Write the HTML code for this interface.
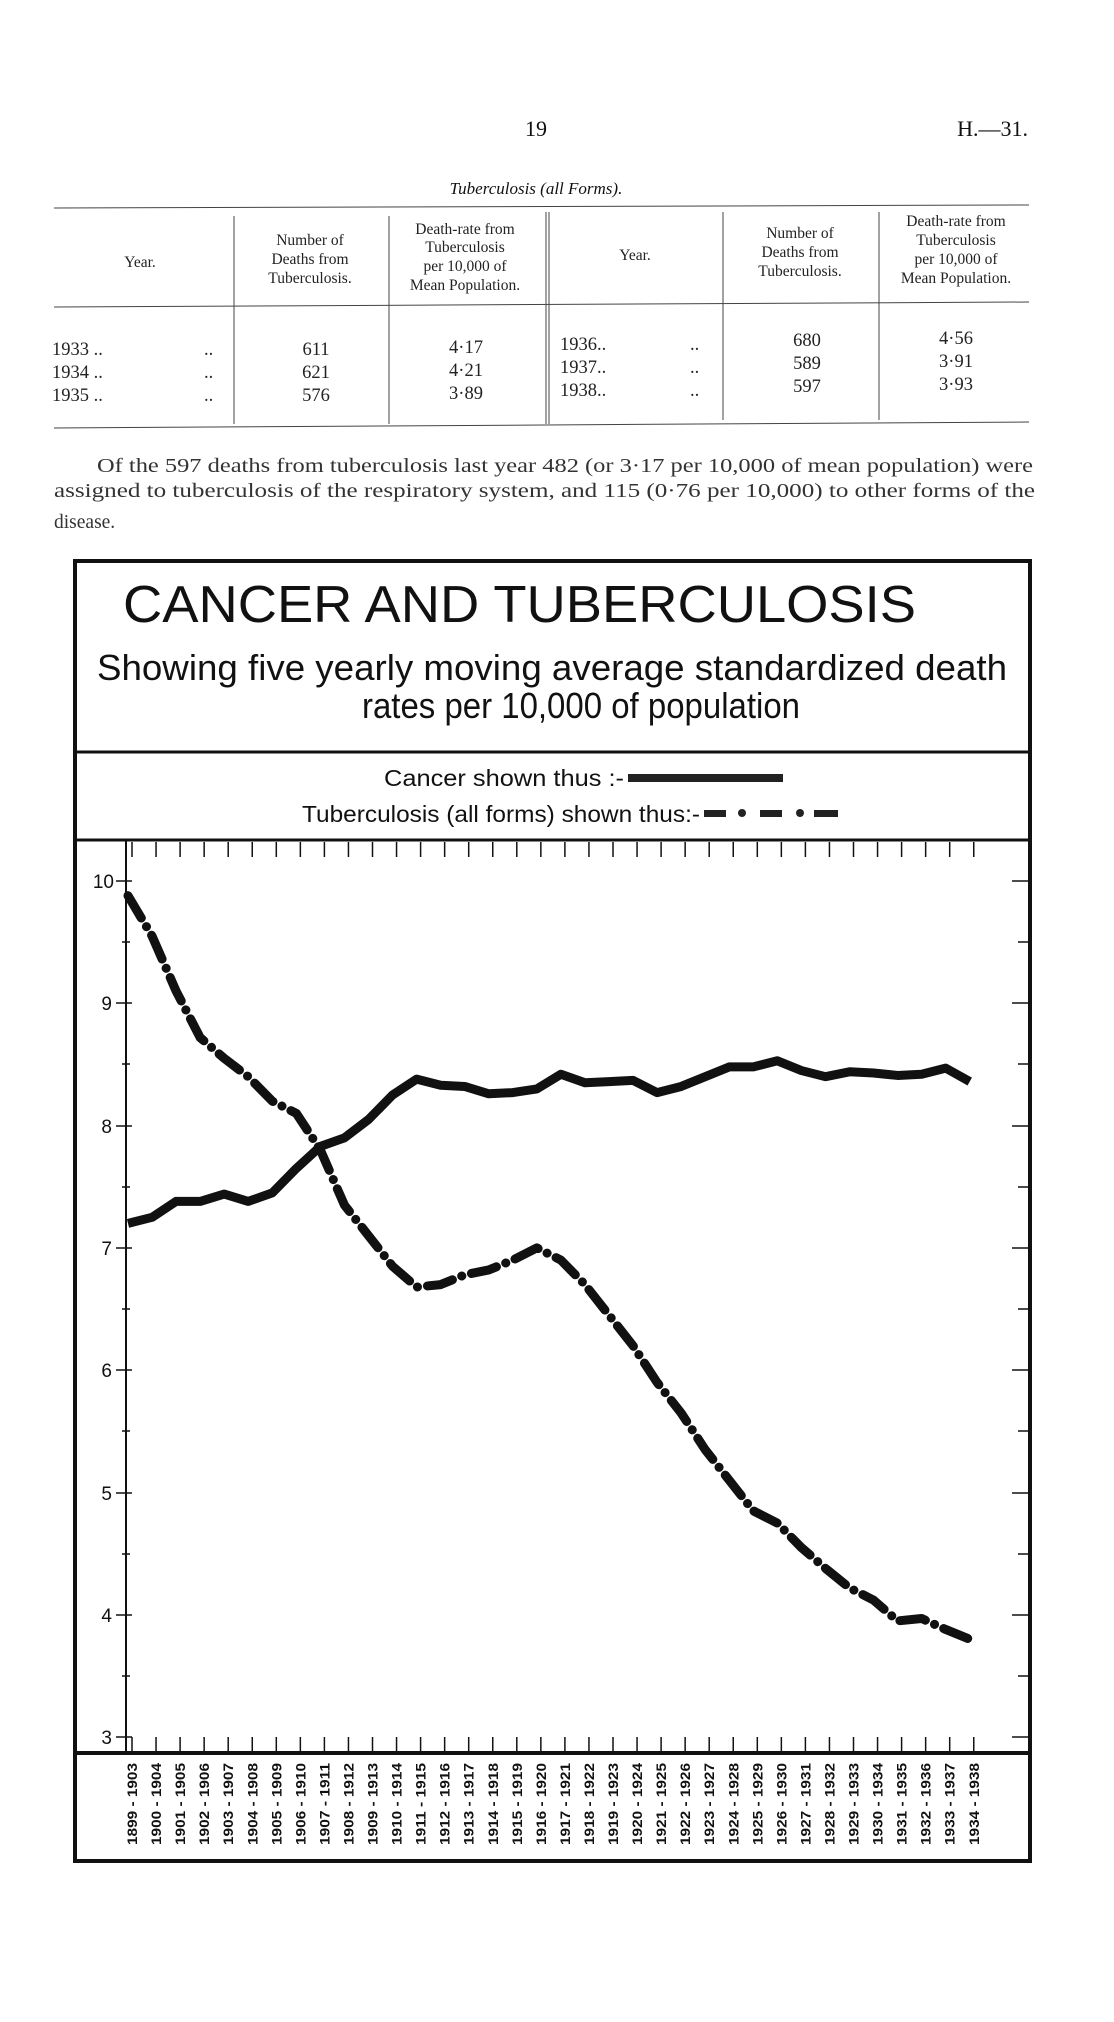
<!DOCTYPE html>
<html><head><meta charset="utf-8"><style>html,body{margin:0;padding:0;background:#fff}svg{display:block}</style></head>
<body>
<svg width="1114" height="2022" viewBox="0 0 1114 2022" xmlns="http://www.w3.org/2000/svg">
<g font-family="Liberation Serif, serif" fill="#111">
<text x="536" y="136" font-size="22" text-anchor="middle">19</text>
<text x="1028" y="136" font-size="22" text-anchor="end">H.—31.</text>
<text x="536" y="194" font-size="17" font-style="italic" text-anchor="middle">Tuberculosis (all Forms).</text>
</g>
<g stroke="#444" stroke-width="1" fill="none">
<line x1="54" y1="208" x2="1029" y2="205"/>
<line x1="54" y1="307" x2="1029" y2="302"/>
<line x1="54" y1="428" x2="1029" y2="422"/>
<line x1="234" y1="216" x2="234" y2="424"/>
<line x1="389" y1="216" x2="389" y2="424"/>
<line x1="546" y1="212" x2="546" y2="424"/><line x1="549" y1="212" x2="549" y2="424"/>
<line x1="723" y1="212" x2="723" y2="420"/>
<line x1="879" y1="212" x2="879" y2="420"/>
</g>
<g font-family="Liberation Serif, serif" font-size="15.5" fill="#222" text-anchor="middle">
<text x="140" y="267">Year.</text>
<text x="310" y="245">Number of</text><text x="310" y="264">Deaths from</text><text x="310" y="283">Tuberculosis.</text>
<text x="465" y="234">Death-rate from</text><text x="465" y="252">Tuberculosis</text><text x="465" y="271">per 10,000 of</text><text x="465" y="290">Mean Population.</text>
<text x="635" y="260">Year.</text>
<text x="800" y="238">Number of</text><text x="800" y="257">Deaths from</text><text x="800" y="276">Tuberculosis.</text>
<text x="956" y="226">Death-rate from</text><text x="956" y="245">Tuberculosis</text><text x="956" y="264">per 10,000 of</text><text x="956" y="283">Mean Population.</text>
</g>
<g font-family="Liberation Serif, serif" font-size="18.5" fill="#222">
<text x="52" y="355">1933   ..</text><text x="52" y="378">1934   ..</text><text x="52" y="401">1935   ..</text>
<text x="204" y="355">..</text><text x="204" y="378">..</text><text x="204" y="401">..</text>
<g text-anchor="middle"><text x="316" y="355">611</text><text x="316" y="378">621</text><text x="316" y="401">576</text>
<text x="466" y="353">4·17</text><text x="466" y="376">4·21</text><text x="466" y="399">3·89</text>
<text x="807" y="346">680</text><text x="807" y="369">589</text><text x="807" y="392">597</text>
<text x="956" y="344">4·56</text><text x="956" y="367">3·91</text><text x="956" y="390">3·93</text></g>
<text x="560" y="350">1936..</text><text x="560" y="373">1937..</text><text x="560" y="396">1938..</text>
<text x="690" y="350">..</text><text x="690" y="373">..</text><text x="690" y="396">..</text>
</g>
<g font-family="Liberation Serif, serif" font-size="19.5" fill="#333">
<text x="97" y="472" textLength="936" lengthAdjust="spacingAndGlyphs">Of the 597 deaths from tuberculosis last year 482 (or 3·17 per 10,000 of mean population) were</text>
<text x="54" y="497" textLength="981" lengthAdjust="spacingAndGlyphs">assigned to tuberculosis of the respiratory system, and 115 (0·76 per 10,000) to other forms of the</text>
<text x="54" y="528">disease.</text>
</g>
<g stroke="#111" fill="none">
<rect x="75" y="561" width="955" height="1300" stroke-width="4"/>
<line x1="75" y1="752" x2="1030" y2="752" stroke-width="3"/>
<line x1="75" y1="840" x2="1030" y2="840" stroke-width="3"/>
<line x1="75" y1="1753" x2="1030" y2="1753" stroke-width="4"/>
<line x1="126" y1="840" x2="126" y2="1753" stroke-width="2"/>
</g>
<g font-family="Liberation Sans Narrow, Liberation Sans, sans-serif" fill="#111">
<text x="123" y="622" font-size="52" textLength="793" lengthAdjust="spacingAndGlyphs">CANCER AND TUBERCULOSIS</text>
<text x="97" y="680" font-size="36" textLength="910" lengthAdjust="spacingAndGlyphs">Showing five yearly moving average standardized death</text>
<text x="362" y="718" font-size="36" textLength="438" lengthAdjust="spacingAndGlyphs">rates per 10,000 of population</text>
<text x="384" y="786" font-size="23" textLength="240" lengthAdjust="spacingAndGlyphs">Cancer shown thus :-</text>
<text x="302" y="822" font-size="23" textLength="398" lengthAdjust="spacingAndGlyphs">Tuberculosis (all forms) shown thus:-</text>
</g>
<rect x="628" y="774" width="155" height="8" fill="#222"/>
<g fill="#222"><rect x="704" y="810" width="22" height="7"/><circle cx="742" cy="813" r="4"/><rect x="760" y="810" width="22" height="7"/><circle cx="800" cy="813" r="4"/><rect x="814" y="810" width="24" height="7"/></g>
<g stroke="#111" stroke-width="1.5">
<line x1="116" y1="881" x2="132" y2="881"/><line x1="116" y1="1003" x2="132" y2="1003"/><line x1="116" y1="1126" x2="132" y2="1126"/><line x1="116" y1="1248" x2="132" y2="1248"/><line x1="116" y1="1370" x2="132" y2="1370"/><line x1="116" y1="1493" x2="132" y2="1493"/><line x1="116" y1="1615" x2="132" y2="1615"/><line x1="116" y1="1737" x2="132" y2="1737"/>
<line x1="122" y1="942" x2="130" y2="942"/><line x1="122" y1="1064" x2="130" y2="1064"/><line x1="122" y1="1187" x2="130" y2="1187"/><line x1="122" y1="1309" x2="130" y2="1309"/><line x1="122" y1="1431" x2="130" y2="1431"/><line x1="122" y1="1554" x2="130" y2="1554"/><line x1="122" y1="1676" x2="130" y2="1676"/>
<line x1="1012" y1="881" x2="1030" y2="881"/><line x1="1018" y1="942" x2="1030" y2="942"/><line x1="1012" y1="1003" x2="1030" y2="1003"/><line x1="1018" y1="1064" x2="1030" y2="1064"/><line x1="1012" y1="1126" x2="1030" y2="1126"/><line x1="1018" y1="1187" x2="1030" y2="1187"/><line x1="1012" y1="1248" x2="1030" y2="1248"/><line x1="1018" y1="1309" x2="1030" y2="1309"/><line x1="1012" y1="1370" x2="1030" y2="1370"/><line x1="1018" y1="1431" x2="1030" y2="1431"/><line x1="1012" y1="1493" x2="1030" y2="1493"/><line x1="1018" y1="1554" x2="1030" y2="1554"/><line x1="1012" y1="1615" x2="1030" y2="1615"/><line x1="1018" y1="1676" x2="1030" y2="1676"/><line x1="1012" y1="1737" x2="1030" y2="1737"/>
</g>
<g font-family="Liberation Sans, sans-serif" font-size="19" fill="#111" text-anchor="end">
<text x="114" y="888">10</text><text x="112" y="1010">9</text><text x="112" y="1133">8</text><text x="112" y="1255">7</text><text x="112" y="1377">6</text><text x="112" y="1500">5</text><text x="112" y="1622">4</text><text x="112" y="1744">3</text>
</g>
<g stroke="#111" stroke-width="1.5" id="xt"></g>
<g id="xl" font-family="Liberation Sans, sans-serif" font-size="14" font-weight="bold" fill="#111"></g>
<polyline id="can" fill="none" stroke="#111" stroke-width="9" stroke-linejoin="round"/>
<polyline id="tb" fill="none" stroke="#111" stroke-width="9" stroke-dasharray="26 10 0.1 10" stroke-linecap="round" stroke-linejoin="round"/>
<script>
var ns="http://www.w3.org/2000/svg";
var c=[7.2,7.25,7.38,7.38,7.44,7.38,7.45,7.65,7.83,7.9,8.05,8.25,8.38,8.33,8.32,8.26,8.27,8.3,8.42,8.35,8.36,8.37,8.27,8.32,8.4,8.48,8.48,8.53,8.45,8.4,8.44,8.43,8.41,8.42,8.47,8.36];
var t=[9.88,9.55,9.1,8.72,8.55,8.4,8.2,8.1,7.8,7.35,7.1,6.85,6.68,6.7,6.78,6.82,6.9,7.0,6.9,6.7,6.45,6.2,5.9,5.65,5.35,5.1,4.85,4.75,4.55,4.38,4.22,4.12,3.95,3.97,3.88,3.8];
function X(i){return 128+24.05*i} function Y(v){return 881+(10-v)*122.3}
document.getElementById('can').setAttribute('points',c.map(function(v,i){return X(i)+','+Y(v)}).join(' '));
document.getElementById('tb').setAttribute('points',t.map(function(v,i){return X(i)+','+Y(v)}).join(' '));
var xt=document.getElementById('xt'),xl=document.getElementById('xl');
for(var i=0;i<36;i++){var x=X(i)+4;
 var l=document.createElementNS(ns,'line');l.setAttribute('x1',x);l.setAttribute('x2',x);l.setAttribute('y1',842);l.setAttribute('y2',857);xt.appendChild(l);
 l=document.createElementNS(ns,'line');l.setAttribute('x1',x);l.setAttribute('x2',x);l.setAttribute('y1',1737);l.setAttribute('y2',1752);xt.appendChild(l);
 var tx=document.createElementNS(ns,'text');tx.setAttribute('transform','translate('+(x+5)+',1845) rotate(-90)');
 tx.setAttribute('textLength','82');tx.setAttribute('lengthAdjust','spacingAndGlyphs');tx.textContent=(1899+i)+' - '+(1903+i);xl.appendChild(tx);}
</script>
</svg>
</body></html>
